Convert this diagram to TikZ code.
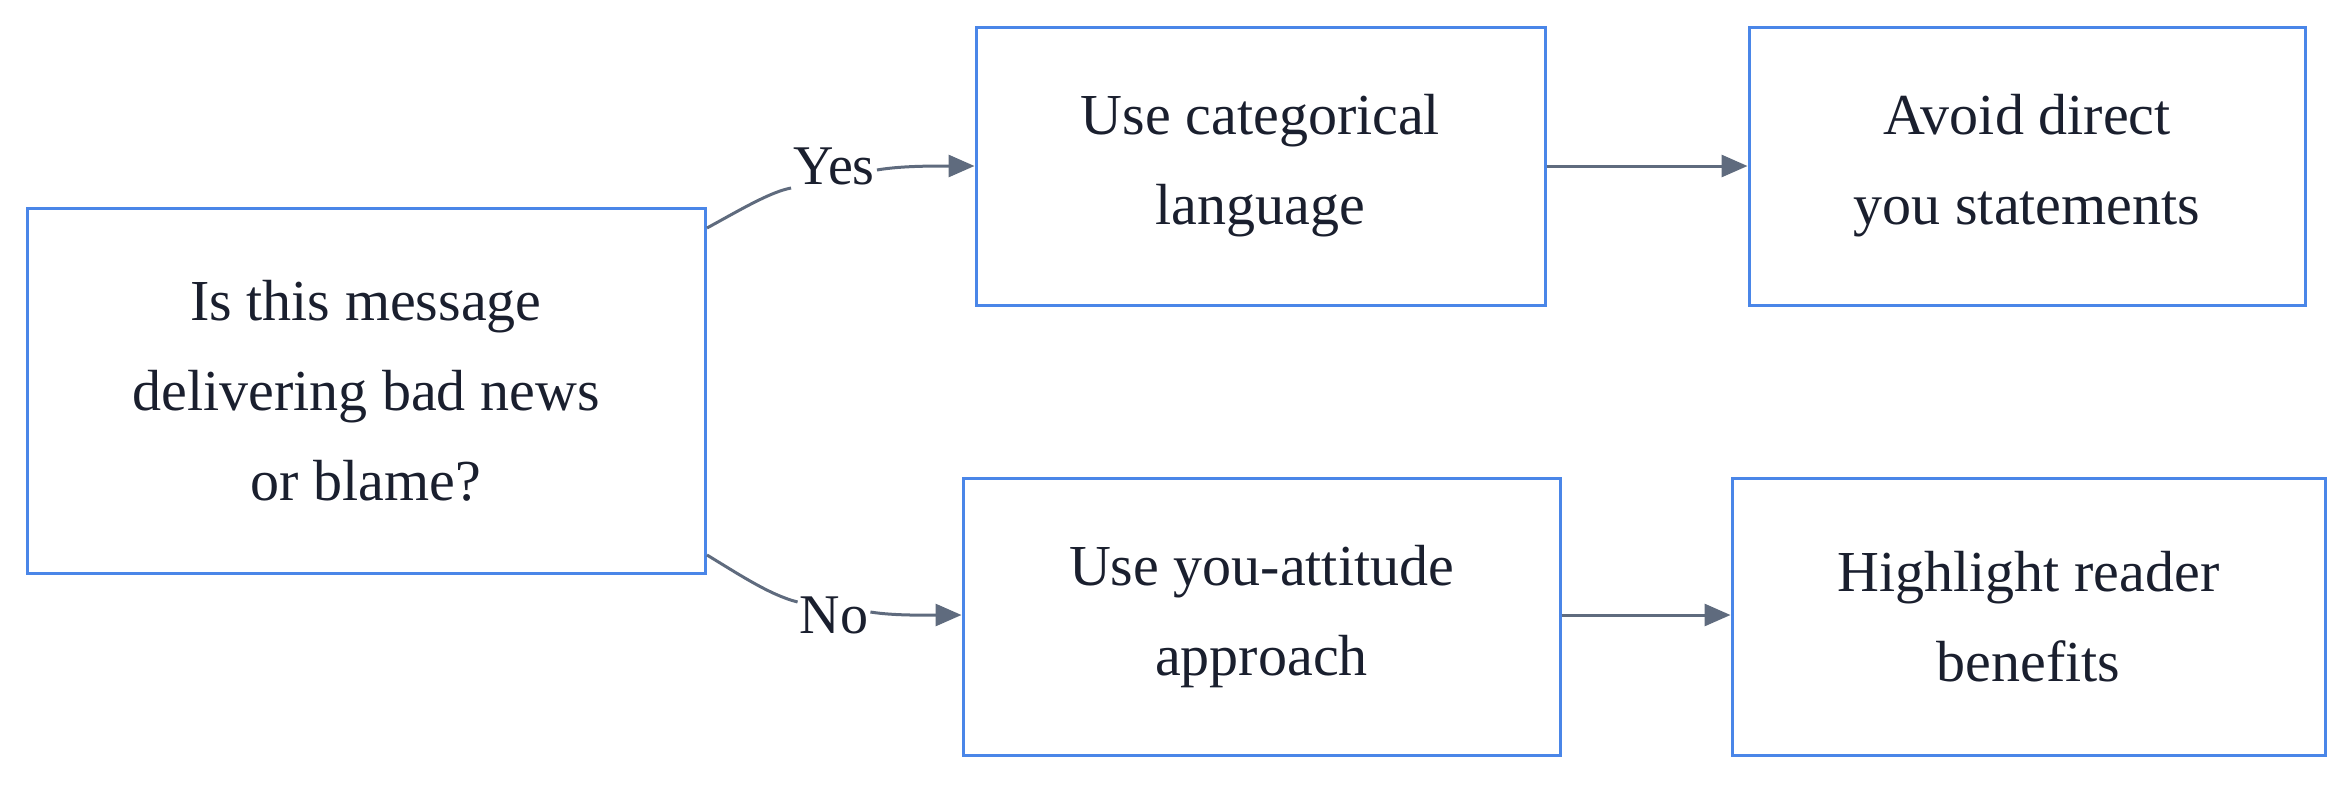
\documentclass[tikz,border=0pt]{standalone}
\usepackage{fontspec}
\setmainfont{Liberation Serif}
\usetikzlibrary{arrows.meta}
\definecolor{bx}{HTML}{4A86E8}
\definecolor{ed}{HTML}{5F6B7E}
\definecolor{tx}{HTML}{1A1F2E}
\begin{document}
\begin{tikzpicture}[x=1pt,y=-1pt,
  box/.style={draw=bx,line width=3pt,align=center,text=tx,inner sep=0pt,font=\fontsize{58}{90}\selectfont},
  edge/.style={draw=ed,line width=3pt},
  arr/.style={edge,-{Triangle[length=26pt,width=22pt]}},
  lab/.style={text=tx,inner sep=2pt,font=\fontsize{56}{60}\selectfont}]
\useasboundingbox (0,0) rectangle (2352,785);
\node[box,minimum width=678pt,minimum height=365pt] (L) at (366,390.5) {Is this message\\delivering bad news\\or blame?};
\node[box,minimum width=569pt,minimum height=278pt] (M1) at (1260.5,166) {Use categorical\\language};
\node[box,minimum width=556pt,minimum height=278pt] (R1) at (2027,166) {Avoid direct\\you statements};
\node[box,minimum width=597pt,minimum height=277pt] (M2) at (1261.5,616.5) {Use you-attitude\\approach};
\node[box,minimum width=593pt,minimum height=277pt] (R2) at (2028.5,616.5) {Highlight reader\\benefits};
\node[lab] (Y) at (834,166) {Yes};
\node[lab] (N) at (834,615) {No};
\coordinate (ys) at (707,228);
\coordinate (ns) at (707,555);
\draw[edge] (ys) .. controls (740,210) and (770,192) .. (Y.west |- 0,188);
\draw[arr] (Y.east |- 0,170) .. controls (900,166) and (930,166) .. (M1.west);
\draw[edge] (ns) .. controls (740,575) and (770,595) .. (N.west |- 0,602);
\draw[arr] (N.east |- 0,612) .. controls (895,616) and (930,615) .. (M2.west |- 0,615);
\draw[arr] (M1.east) -- (R1.west);
\draw[arr] (M2.east |- 0,615) -- (R2.west |- 0,615);
\end{tikzpicture}
\end{document}
